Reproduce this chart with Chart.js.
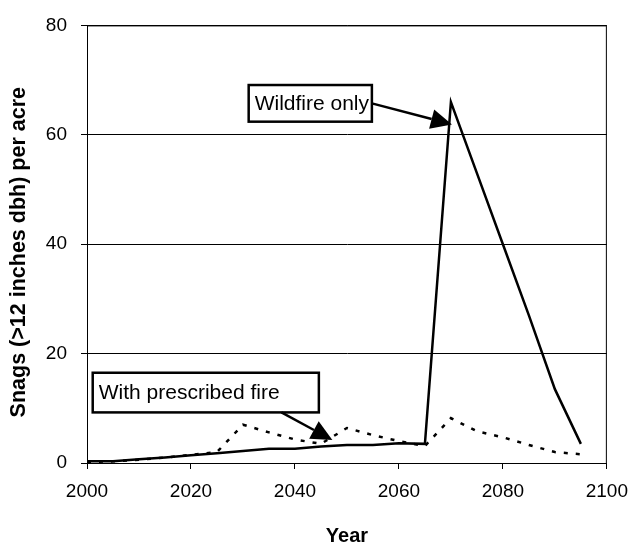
<!DOCTYPE html>
<html>
<head>
<meta charset="utf-8">
<script src="https://cdn.jsdelivr.net/npm/chart.js@4"></script>
<style>
  html, body { margin: 0; padding: 0; background: #fff; }
  #wrap { width: 639px; height: 546px; position: relative; }
</style>
</head>
<body>
<div id="wrap"><canvas id="c" width="639" height="546"></canvas></div>
<script>
const years = [2000, 2005, 2010, 2015, 2020, 2025, 2030, 2035, 2040, 2045, 2050, 2055, 2060, 2065, 2070, 2075, 2080, 2085, 2090, 2095];
const wildfireOnly = [0.3, 0.3, 0.7, 1.0, 1.4, 1.8, 2.2, 2.6, 2.6, 3.0, 3.3, 3.3, 3.6, 3.5, 66, 53, 40, 27, 13.5, 3.5];
const prescribedFire = [0.2, 0.3, 0.6, 1.0, 1.5, 2.0, 7.0, 5.6, 4.3, 3.5, 6.4, 5.1, 4.0, 3.1, 8.2, 5.8, 4.7, 3.3, 2.0, 1.6];
const xTicks = [2000, 2020, 2040, 2060, 2080, 2100];
const yTicks = [0, 20, 40, 60, 80];
const xTitle = "Year";
const yTitle = "Snags (>12 inches dbh) per acre";
const labelWildfire = "Wildfire only";
const labelPrescribed = "With prescribed fire";

const FONT = "'Liberation Sans', Arial, sans-serif";

function arrow(ctx, x1, y1, x2, y2, len, half) {
  const a = Math.atan2(y2 - y1, x2 - x1);
  const bx = x2 - len * Math.cos(a), by = y2 - len * Math.sin(a);
  ctx.beginPath();
  ctx.moveTo(x1, y1);
  ctx.lineTo(bx, by);
  ctx.lineWidth = 2.5;
  ctx.strokeStyle = '#000';
  ctx.stroke();
  ctx.beginPath();
  ctx.moveTo(x2, y2);
  ctx.lineTo(bx + half * Math.sin(a), by - half * Math.cos(a));
  ctx.lineTo(bx - half * Math.sin(a), by + half * Math.cos(a));
  ctx.closePath();
  ctx.fillStyle = '#000';
  ctx.fill();
}

function box(ctx, xs, ys, x0, x1, y0, y1, text) {
  const L = xs.getPixelForValue(x0), R = xs.getPixelForValue(x1);
  const T = ys.getPixelForValue(y0), B = ys.getPixelForValue(y1);
  ctx.fillStyle = '#fff';
  ctx.fillRect(L, T, R - L, B - T);
  ctx.lineWidth = 2.5;
  ctx.strokeStyle = '#000';
  ctx.strokeRect(L, T, R - L, B - T);
  ctx.fillStyle = '#000';
  ctx.font = '21px ' + FONT;
  ctx.textAlign = 'left';
  ctx.textBaseline = 'middle';
  ctx.fillText(text, L + 6, (T + B) / 2 + 1);
  return {L, R, T, B};
}

const annot = {
  id: 'annot',
  beforeDatasetsDraw(chart) {
    const {ctx, chartArea: ca} = chart;
    ctx.save();
    ctx.strokeStyle = '#000';
    ctx.lineWidth = 1;
    ctx.strokeRect(ca.left + 0.5, ca.top + 0.5, ca.right - ca.left - 1, ca.bottom - ca.top);
    ctx.restore();
  },
  afterDatasetsDraw(chart) {
    const {ctx, chartArea: ca} = chart;
    const xs = chart.scales.x, ys = chart.scales.y;
    ctx.save();
    const b1 = box(ctx, xs, ys, 2031.1, 2054.8, 69.1, 62.4, labelWildfire);
    arrow(ctx, b1.R, (b1.T + b1.B) / 2, xs.getPixelForValue(2070.2), ys.getPixelForValue(61.9), 21, 10);
    const b2 = box(ctx, xs, ys, 2001.1, 2044.6, 16.5, 9.25, labelPrescribed);
    arrow(ctx, xs.getPixelForValue(2037.4), b2.B, xs.getPixelForValue(2047.2), ys.getPixelForValue(4.2), 21, 10);
    // y-axis title
    ctx.translate(19, (ca.top + ca.bottom) / 2 + 8);
    ctx.rotate(-Math.PI / 2);
    ctx.font = 'bold 21.5px ' + FONT;
    ctx.fillStyle = '#000';
    ctx.textAlign = 'center';
    ctx.textBaseline = 'middle';
    ctx.fillText(yTitle, 0, 0);
    ctx.restore();
  }
};

new Chart(document.getElementById('c'), {
  type: 'line',
  data: {
    datasets: [
      {
        label: labelWildfire,
        data: years.map((y, i) => ({x: y, y: wildfireOnly[i]})),
        borderColor: '#000',
        borderWidth: 2.5,
        pointRadius: 0,
        tension: 0,
        fill: false
      },
      {
        label: labelPrescribed,
        data: years.map((y, i) => ({x: y, y: prescribedFire[i]})),
        borderColor: '#000',
        borderWidth: 2.5,
        borderDash: [4, 8],
        pointRadius: 0,
        tension: 0,
        fill: false
      }
    ]
  },
  options: {
    responsive: false,
    animation: false,
    layout: { padding: { top: 22, right: 25, left: 0, bottom: 0 } },
    plugins: { legend: { display: false }, tooltip: { enabled: false } },
    scales: {
      x: {
        type: 'linear',
        min: 2000, max: 2100,
        afterBuildTicks: (s) => { s.ticks = xTicks.map(v => ({value: v})); },
        afterFit: (s) => { s.height = 83; },
        ticks: { color: '#000', font: { family: FONT, size: 19 }, padding: 11, maxRotation: 0, callback: v => String(v) },
        grid: { drawOnChartArea: false, drawTicks: true, tickLength: 6, color: '#000' },
        border: { display: true, color: '#000', width: 1 },
        title: { display: true, text: xTitle, color: '#000', font: { family: FONT, size: 20, weight: 'bold', lineHeight: 1 }, padding: { top: 0, bottom: 0 } }
      },
      y: {
        min: 0, max: 80,
        afterBuildTicks: (s) => { s.ticks = yTicks.map(v => ({value: v})); },
        afterFit: (s) => { s.width = 87; },
        ticks: { color: '#000', font: { family: FONT, size: 19 }, padding: 14 },
        grid: { drawOnChartArea: true, drawTicks: true, tickLength: 6, color: '#000', lineWidth: 1 },
        border: { display: true, color: '#000', width: 1 },
        title: { display: false, text: yTitle }
      }
    }
  },
  plugins: [annot]
});
</script>
</body>
</html>
